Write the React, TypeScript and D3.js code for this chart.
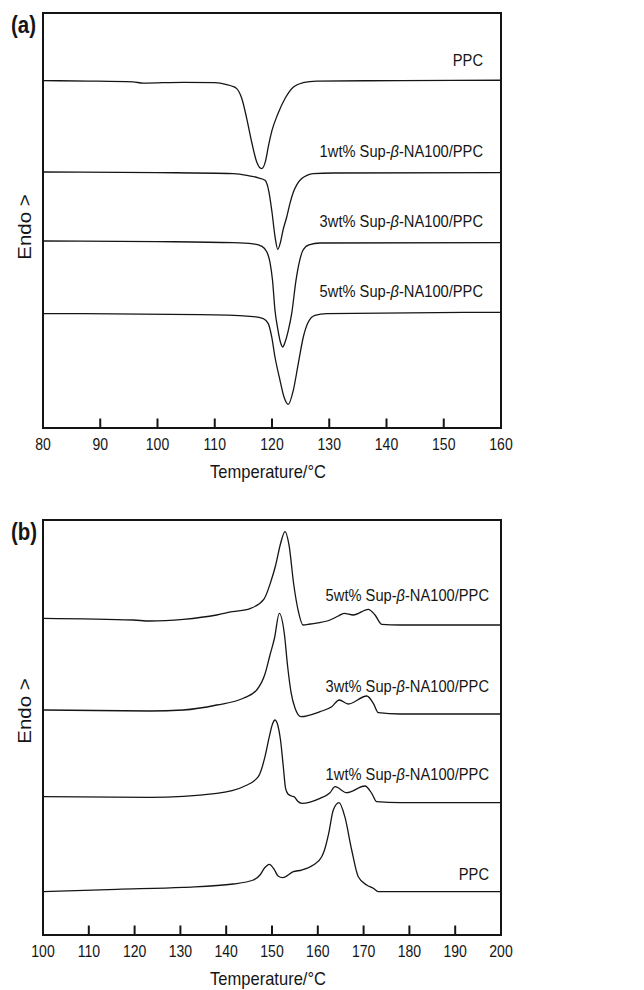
import React from 'react';
import * as d3 from 'd3';

// DSC curves, [temperature °C, heat flow (a.u., offset per trace)]
const coolPPC: [number, number][] = [
  [80, 83.7], [88, 83.6], [95.7, 83.4], [97.5, 83.1], [104.5, 83.3], [110, 83.2],
  [112.09, 82.75], [112.96, 82.41], [113.84, 81.78], [114.71, 79.45], [115.58, 74.63],
  [116.45, 68.92], [117.33, 64.1], [118.2, 62.5], [118.9, 64.5],
  [119.4, 68.1], [120.0, 71.7], [121.0, 75.6], [122.3, 79.45], [123.7, 82.1],
  [125.4, 83.2], [127.8, 83.6], [142.4, 83.7], [160, 83.8],
];
const cool1: [number, number][] = [
  [80, 61.69], [100, 61.54], [113.2, 61.3], [116.0, 60.77], [117.6, 60.29],
  [118.78, 59.69], [119.48, 56.8], [120.0, 51.98], [120.52, 46.19], [121.0, 43.06],
  [121.48, 44.75], [121.92, 47.64], [122.57, 50.84], [123.14, 54.14], [123.72, 56.8],
  [124.37, 58.72], [125.19, 60.1], [126.11, 60.89], [127.21, 61.3], [130.66, 61.45],
  [160, 61.54],
];
const cool3: [number, number][] = [
  [80, 45.06], [100, 44.92], [113.2, 44.67], [116.68, 44.39], [118.25, 43.78],
  [119.13, 42.34], [119.65, 39.93], [120.09, 35.59], [120.52, 28.36], [121.05, 23.54],
  [121.48, 20.65], [121.87, 19.52], [122.27, 20.65], [122.85, 23.54], [123.44, 27.57],
  [124.19, 35.59], [124.8, 40.17], [125.41, 42.82], [126.46, 44.14], [128.38, 44.58],
  [160, 44.67],
];
const cool5: [number, number][] = [
  [80, 27.57], [107.42, 27.33], [116.16, 26.92], [118.48, 26.36], [119.35, 25.16],
  [119.95, 21.93], [120.52, 17.11], [121.4, 11.49], [122.1, 7.47], [122.85, 5.71],
  [123.72, 9.08], [124.59, 15.52], [125.47, 21.93], [126.34, 25.54], [127.51, 27.16],
  [129.56, 27.57], [160, 27.88],
];

const heat5: [number, number][] = [
  [100, 76.31], [119.72, 75.9], [123.36, 75.66], [130.63, 76.07], [137.93, 77.11],
  [141.33, 77.9], [145.2, 78.67], [148.25, 80.96], [149.72, 85.06], [150.81, 89.16],
  [151.9, 94.46], [152.84, 97.18], [153.71, 93.98], [154.76, 84.34], [155.79, 77.83],
  [156.77, 74.7], [158.3, 74.94], [162.66, 75.9], [164.48, 76.87], [165.72, 77.52],
  [167.75, 77.11], [171.03, 78.48], [172.49, 77.11], [173.95, 74.87], [177.95, 74.7],
  [200, 74.7],
];
const heat3: [number, number][] = [
  [100, 54.22], [123.36, 53.98], [130.63, 54.22], [137.93, 55.42], [143.73, 57.04],
  [146.66, 59.04], [148.47, 62.89], [149.56, 67.47], [150.55, 71.57], [151.59, 77.52],
  [152.73, 72.29], [153.38, 65.06], [154.15, 58.55], [155.02, 54.7], [156.33, 52.6],
  [160.48, 53.81], [163.03, 55.01], [164.69, 56.63], [166.66, 55.66], [170.68, 57.59],
  [172.12, 55.83], [173.21, 53.57], [177.95, 53.25], [200, 53.25],
];
const heat1: [number, number][] = [
  [100, 33.33], [123.36, 33.18], [137.93, 34.14], [143.73, 35.73], [147.01, 38.14],
  [148.47, 42.96], [149.41, 47.78], [150.11, 50.84], [150.66, 51.81], [151.31, 50.36],
  [151.86, 46.99], [152.47, 40.55], [152.95, 35.42], [153.49, 33.98], [154.26, 33.49],
  [154.91, 33.25], [155.57, 32.29], [156.55, 31.73], [160.48, 32.94], [162.66, 34.29],
  [163.76, 35.73], [166.31, 34.29], [170.31, 35.9], [171.77, 34.14], [172.86, 32.12],
  [177.95, 31.88], [200, 31.88],
];
const heatPPC: [number, number][] = [
  [100, 10.43], [116.09, 11.01], [130.63, 11.49], [141.55, 12.29], [145.92, 13.25],
  [147.38, 14.46], [148.36, 16.14], [149.41, 17.04], [150.44, 15.9], [151.31, 14.22],
  [152.34, 13.81], [154.65, 15.25], [156.48, 15.66], [159.02, 16.87], [160.85, 18.87],
  [161.46, 20.48], [162.38, 24.48], [163.38, 30.12], [164.63, 31.88], [165.9, 28.51],
  [167.4, 20.48], [168.84, 14.05], [170.68, 12.05], [172.12, 11.25], [173.21, 10.43],
  [200, 10.43],
];

const ticksA = [80, 90, 100, 110, 120, 130, 140, 150, 160];
const ticksB = [100, 110, 120, 130, 140, 150, 160, 170, 180, 190, 200];

const panelA = {
  tag: '(a)',
  xDomain: [80, 160],
  ticks: ticksA,
  top: 13,
  endoY: 227,
  series: [
    { pct: null, data: coolPPC, dy: -14 },
    { pct: '1wt%', data: cool1, dy: -16 },
    { pct: '3wt%', data: cool3, dy: -16 },
    { pct: '5wt%', data: cool5, dy: -15 },
  ],
  labelRight: 483,
};
const panelB = {
  tag: '(b)',
  xDomain: [100, 200],
  ticks: ticksB,
  top: 520,
  endoY: 711,
  series: [
    { pct: '5wt%', data: heat5, dy: -24 },
    { pct: '3wt%', data: heat3, dy: -22 },
    { pct: '1wt%', data: heat1, dy: -23 },
    { pct: null, data: heatPPC, dy: -12 },
  ],
  labelRight: 489,
};

const LEFT = 43;
const RIGHT = 501;
const H = 415;
const font = '"Liberation Sans", Arial, sans-serif';
const INK = '#151515';

function Panel({ p }) {
  const x = d3.scaleLinear().domain(p.xDomain).range([LEFT, RIGHT]);
  const y = d3.scaleLinear().domain([0, 100]).range([p.top + H, p.top]);
  const line = d3
    .line<[number, number]>()
    .x((d) => x(d[0]))
    .y((d) => y(d[1]))
    .curve(d3.curveMonotoneX);
  const bottom = p.top + H;

  return (
    <g fontFamily={font} fill={INK}>
      {p.series.map((s, i) => (
        <path key={i} d={line(s.data) || ''} fill="none" stroke={INK} strokeWidth={1.3} />
      ))}
      {p.series.map((s, i) => {
        const last = s.data[s.data.length - 1];
        return (
          <text
            key={'l' + i}
            transform={`translate(${p.labelRight},${y(last[1]) + s.dy}) scale(0.89,1)`}
            textAnchor="end"
            fontSize={16.5}
          >
            {s.pct ? (
              <>
                {s.pct} Sup-<tspan fontStyle="italic">β</tspan>-NA100/PPC
              </>
            ) : (
              'PPC'
            )}
          </text>
        );
      })}
      <rect x={LEFT} y={p.top} width={RIGHT - LEFT} height={H} fill="none" stroke={INK} strokeWidth={2} />
      {p.ticks.slice(1, -1).map((t) => (
        <line key={'t' + t} x1={x(t)} x2={x(t)} y1={bottom} y2={bottom - 9.5} stroke={INK} strokeWidth={2} />
      ))}
      {p.ticks.map((t) => (
        <text
          key={'tl' + t}
          transform={`translate(${x(t)},${bottom + 21.5}) scale(0.85,1)`}
          textAnchor="middle"
          fontSize={16.5}
        >
          {t}
        </text>
      ))}
      <text
        transform={`translate(${(LEFT + RIGHT) / 2 - 4},${bottom + 50}) scale(0.92,1)`}
        textAnchor="middle"
        fontSize={18}
      >
        Temperature/°C
      </text>
      <text
        transform={`translate(31,${p.endoY}) scale(0.85,1) rotate(-90)`}
        textAnchor="middle"
        fontSize={20.5}
      >
        Endo &gt;
      </text>
      <text
        transform={`translate(11,${p.top + 20}) scale(0.87,1)`}
        fontWeight="bold"
        fontSize={23.5}
      >
        {p.tag}
      </text>
    </g>
  );
}

export default function App() {
  return (
    <svg
      width={644}
      height={990}
      style={{ position: 'absolute', left: 0, top: 0, background: '#fff' }}
    >
      <rect width={644} height={990} fill="#fff" />
      <Panel p={panelA} />
      <Panel p={panelB} />
    </svg>
  );
}
